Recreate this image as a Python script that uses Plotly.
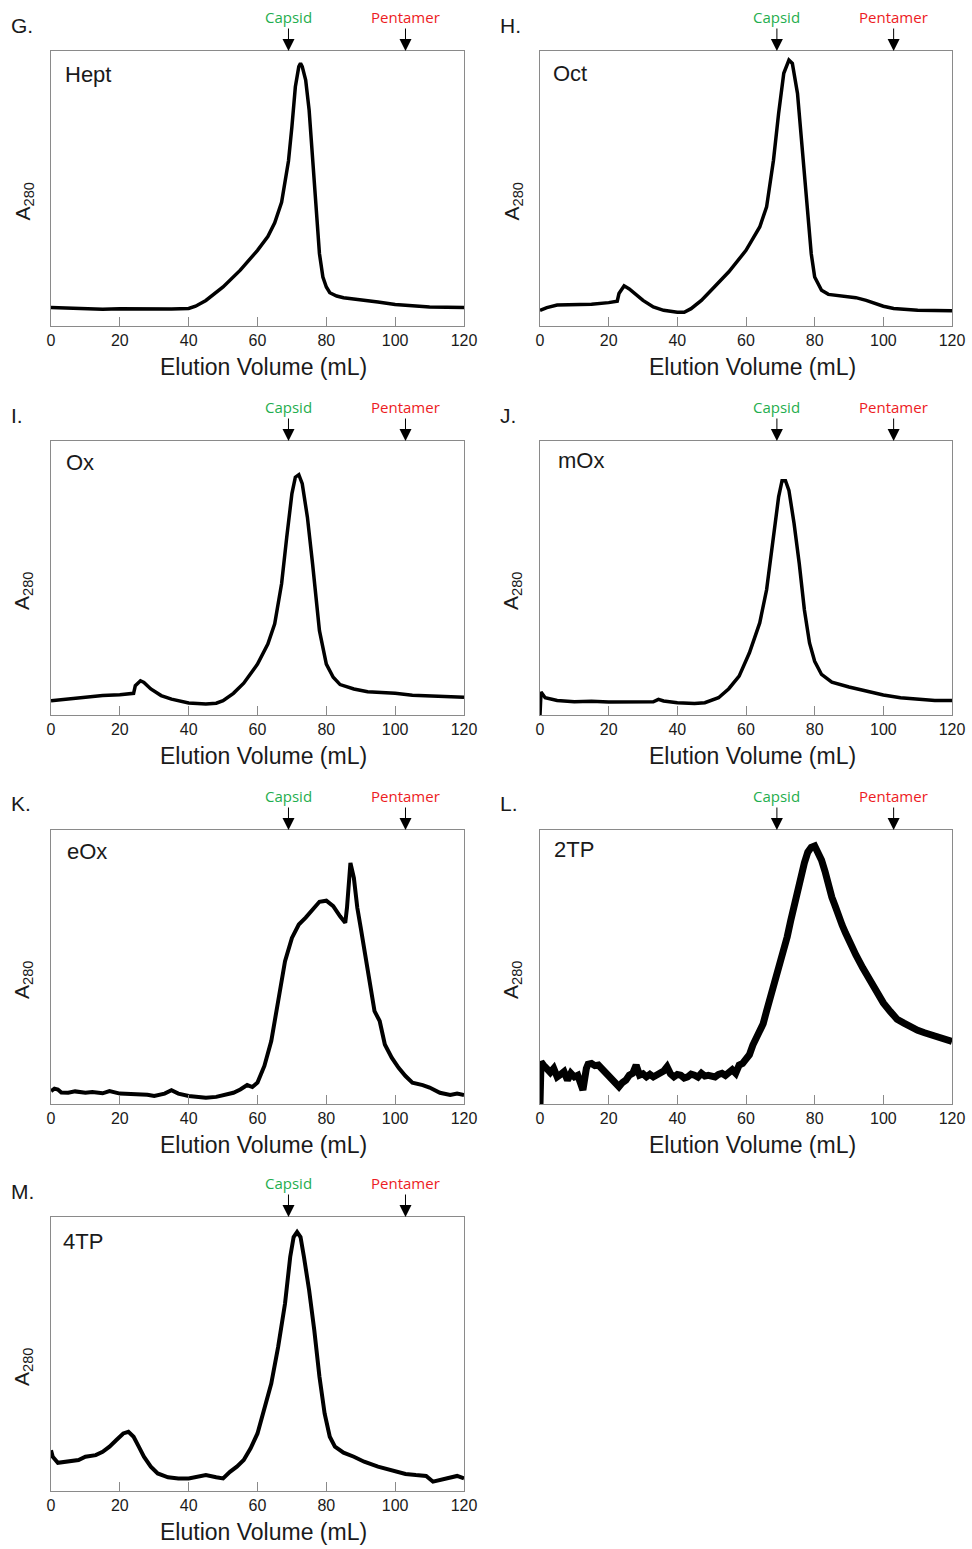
import plotly.graph_objects as go

# ---------------- data (A280, normalised 0-100 of panel height) ----------------
hept_x = [0, 5, 10, 15, 20, 25, 30, 35, 40, 42, 45, 50, 55, 60, 63, 65, 67, 68, 69, 70, 71, 72, 72.5, 73, 74, 75, 76, 77, 78, 79, 80, 81, 83, 85, 90, 95, 100, 105, 110, 115, 120]
hept_y = [6.7, 6.4, 6.2, 6.1, 6.3, 6.2, 6.1, 6.2, 6.4, 7.2, 9.3, 14.2, 20.3, 27.5, 32.5, 37.5, 45.0, 52.0, 60.0, 72.5, 87.0, 94.3, 95.5, 94.3, 89.4, 78.5, 61.5, 43.3, 26.3, 17.8, 14.2, 12.1, 10.9, 10.3, 9.6, 8.7, 7.8, 7.2, 6.9, 6.8, 6.7]

oct_x = [0, 2, 5, 10, 15, 20, 22.5, 23, 24.5, 26, 28, 30, 33, 36, 40, 42, 44, 47, 50, 55, 60, 64, 66, 68, 69.5, 71, 72.5, 73.5, 75, 76, 77, 78, 79, 80, 82, 84, 88, 92, 95, 100, 103, 110, 120]
oct_y = [5.7, 6.7, 7.6, 7.6, 7.9, 8.5, 9.0, 11.8, 14.6, 13.5, 11.2, 9.3, 6.9, 5.7, 5.0, 5.0, 6.3, 9.3, 13.2, 19.7, 27.5, 36.0, 43.3, 60.3, 77.3, 91.9, 96.7, 95.5, 84.6, 70.0, 55.5, 40.9, 26.3, 17.8, 13.0, 11.5, 11.0, 10.3, 9.3, 7.2, 6.4, 5.7, 5.5]

ox_x = [0, 5, 10, 15, 20, 24, 24.5, 26, 27, 29, 32, 35, 40, 45, 48, 50, 53, 56, 60, 63, 65, 67, 68.5, 70, 71, 72, 73, 74.5, 76, 77, 78, 80, 82, 84, 88, 92, 96, 100, 105, 110, 115, 120]
ox_y = [5.2, 5.8, 6.7, 7.1, 7.4, 7.9, 10.7, 12.5, 11.9, 9.5, 7.1, 5.8, 4.4, 4.0, 4.3, 5.2, 7.9, 11.6, 18.6, 25.9, 33.3, 47.9, 64.9, 80.8, 86.8, 87.7, 84.4, 72.2, 55.2, 43.0, 30.8, 18.6, 13.8, 11.1, 9.5, 8.5, 8.3, 7.9, 7.2, 6.9, 6.9, 6.5]

mox_x = [0, 0.3, 1.5, 5, 10, 15, 20, 25, 30, 33, 34.5, 36, 40, 45, 48, 52, 55, 58, 61, 64, 66, 68, 69.5, 70.5, 71.5, 72.5, 74, 75.5, 77, 78.5, 80, 82, 85, 90, 95, 100, 105, 110, 115, 120]
mox_y = [0.0, 8.4, 6.3, 5.3, 4.8, 5.0, 4.7, 4.7, 4.5, 4.8, 5.7, 5.1, 4.5, 4.2, 4.5, 6.3, 9.6, 14.2, 22.7, 33.6, 45.7, 65.1, 79.6, 85.5, 85.5, 82.0, 69.9, 55.4, 38.4, 26.3, 19.6, 14.8, 12.0, 10.2, 8.7, 7.3, 6.3, 5.7, 5.3, 5.3]

eox_x = [0, 1, 2, 3, 5, 7, 10, 12, 15, 17, 20, 23, 25, 28, 30, 33, 35, 37, 40, 43, 45, 48, 50, 53, 55, 57, 58.5, 60, 62, 64, 66, 68, 70, 72, 74, 76, 78, 80, 82, 84, 85.5, 86, 86.5, 87, 88, 89, 90, 92, 94, 95.5, 97, 99, 101, 103, 105, 108, 110, 113, 116, 118, 120]
eox_y = [4.7, 5.6, 5.3, 4.2, 4.1, 4.6, 4.1, 4.4, 3.9, 4.7, 3.8, 3.6, 3.3, 3.4, 2.9, 3.8, 5.0, 3.8, 2.9, 2.6, 2.3, 2.6, 3.3, 4.1, 5.3, 6.9, 6.2, 7.8, 13.9, 23.0, 37.5, 52.1, 60.6, 65.5, 68.0, 71.0, 73.8, 74.2, 72.2, 68.5, 66.1, 71.6, 82.5, 88.0, 82.5, 71.6, 64.3, 49.7, 33.9, 30.3, 21.7, 16.9, 13.2, 10.2, 7.8, 6.9, 6.0, 4.1, 3.3, 3.8, 3.3]

tp2_x = [0, 0.3, 1, 2, 3, 4, 5, 6, 7, 8, 9, 10, 11, 12, 12.5, 13.5, 14, 15, 16, 17, 18, 19, 20, 21, 22, 23, 24, 25, 26, 27, 28, 29, 30, 31, 32, 33, 34, 35, 36, 37, 38, 39, 40, 41, 42, 43, 44, 45, 46, 47, 48, 49, 50, 51, 52, 53, 54, 55, 56, 57, 58, 59, 60, 61, 62, 63, 64, 65, 66, 67, 68, 69, 70, 71, 72, 73, 74, 75, 76, 77, 78, 79, 80, 81, 82, 83, 84, 85, 86, 87, 88, 89, 90, 92, 94, 96, 98, 100, 102, 104, 106, 108, 110, 112, 114, 116, 118, 120]
tp2_y = [0.0, 15.4, 14.2, 12.5, 11.5, 13.0, 9.9, 10.8, 11.8, 8.7, 11.2, 9.9, 10.5, 6.9, 5.1, 13.0, 14.5, 14.8, 14.0, 14.2, 12.8, 11.8, 10.5, 9.3, 7.5, 6.3, 7.8, 8.7, 10.5, 11.2, 14.2, 10.5, 11.0, 9.9, 10.8, 9.9, 10.6, 11.2, 12.0, 13.6, 11.0, 9.9, 10.8, 10.5, 9.5, 9.9, 10.9, 10.5, 9.8, 11.2, 10.2, 10.5, 10.0, 9.9, 10.8, 11.2, 10.4, 11.8, 12.5, 11.2, 14.2, 14.8, 16.0, 18.0, 21.5, 24.0, 27.0, 29.3, 34.0, 38.4, 42.4, 46.4, 50.5, 55.3, 61.0, 66.8, 72.7, 78.0, 82.8, 88.0, 91.9, 93.7, 94.2, 91.9, 89.0, 85.0, 79.0, 75.5, 72.2, 68.2, 65.3, 62.4, 59.5, 54.4, 49.7, 45.3, 41.1, 36.9, 33.8, 30.9, 29.5, 28.0, 26.9, 26.0, 25.3, 24.4, 23.5, 22.8]

tp4_x = [0, 0.5, 2, 5, 8, 10, 13, 15, 17, 19, 21, 22.5, 24, 25.5, 27, 29, 31, 34, 37, 40, 43, 45, 48, 50, 52, 54, 56, 58, 60, 62, 64, 66, 68, 69.5, 70.5, 71.5, 72.5, 73.5, 75, 76.5, 78, 79.5, 81, 82.5, 85, 88, 91, 95, 100, 103, 106, 109, 111, 113, 116, 118, 120]
tp4_y = [14.9, 12.5, 10.3, 10.7, 11.3, 12.5, 13.1, 14.3, 16.2, 18.6, 21.0, 21.6, 19.8, 16.2, 12.5, 8.9, 6.4, 5.0, 4.6, 4.6, 5.5, 5.8, 5.0, 4.6, 7.0, 8.9, 11.3, 15.6, 21.0, 29.5, 39.2, 52.6, 68.4, 85.4, 92.7, 94.5, 92.7, 85.4, 73.3, 58.7, 41.7, 28.3, 19.8, 16.2, 14.0, 12.5, 10.7, 8.9, 7.0, 6.2, 5.8, 5.5, 3.4, 4.0, 4.6, 5.5, 4.6]

panel_letters = ["G.", "H.", "I.", "J.", "K.", "L.", "M."]
sample_names = ["Hept", "Oct", "Ox", "mOx", "eOx", "2TP", "4TP"]
series_x = [hept_x, oct_x, ox_x, mox_x, eox_x, tp2_x, tp4_x]
series_y = [hept_y, oct_y, ox_y, mox_y, eox_y, tp2_y, tp4_y]
marker_names = ["Capsid", "Pentamer"]
marker_volumes = [69, 103]
x_ticks = [0, 20, 40, 60, 80, 100, 120]
x_title = "Elution Volume (mL)"
y_title = "A<sub>280</sub>"

# ---------------- layout geometry (pixels) ----------------
W, H = 972, 1549
COLS = [(51, 464), (540, 952)]
ROWS = [(51, 326), (441, 715), (830, 1104), (1217, 1491)]
line_widths = [3.5, 3.5, 3.5, 3.5, 4, 7, 4]
name_dx = [14, 13, 15, 18, 16, 14, 12]
name_dy = [23, 22, 21, 19, 21, 19, 24]
marker_colors = ["#1fae4e", "#ed1c24"]
FRAME = "#8a8a8a"
FONT = "Liberation Sans, Arial"
TXT = "#1a1a1a"

fig = go.Figure()
annotations = []
for i in range(7):
    k = i + 1
    sfx = "" if k == 1 else str(k)
    row, col = divmod(i, 2)
    l, r = COLS[col]
    t, b = ROWS[row]
    fig.add_trace(go.Scatter(
        x=series_x[i], y=series_y[i], mode="lines",
        line=dict(color="black", width=line_widths[i]),
        xaxis="x" + sfx, yaxis="y" + sfx, showlegend=False, hoverinfo="x+y"))
    fig.layout["xaxis" + sfx] = dict(
        domain=[l / W, r / W], anchor="y" + sfx, range=[0, 120], automargin=False,
        tickvals=x_ticks, ticks="inside", ticklen=9, tickcolor=FRAME, tickwidth=1,
        showline=True, linecolor=FRAME, linewidth=1, mirror=True,
        showgrid=False, zeroline=False,
        tickfont=dict(family=FONT, size=16, color=TXT))
    fig.layout["yaxis" + sfx] = dict(
        domain=[1 - b / H, 1 - t / H], anchor="x" + sfx, range=[0, 100], automargin=False,
        showticklabels=False, ticks="", showline=True, linecolor=FRAME, linewidth=1,
        mirror=True, showgrid=False, zeroline=False)
    # x title
    annotations.append(dict(
        text=x_title, xref="paper", x=((l + r) / 2 + 6) / W, xanchor="center",
        yref="paper", y=1 - (b + 41) / H, yanchor="middle", showarrow=False,
        font=dict(family=FONT, size=23, color=TXT)))
    # y title as rotated text
    annotations.append(dict(
        text=y_title, textangle=-90, xref="paper", x=(l - 28) / W,
        xanchor="center", yref="paper", y=1 - ((t + b) / 2 + 13) / H, yanchor="middle",
        showarrow=False, font=dict(family=FONT, size=21, color=TXT)))
    # panel letter
    annotations.append(dict(
        text=panel_letters[i], xref="paper", x=(l - 42) / W, xanchor="left",
        yref="paper", y=1 - (t - 26) / H, yanchor="middle", showarrow=False,
        font=dict(family=FONT, size=21, color=TXT)))
    # sample name inside
    annotations.append(dict(
        text=sample_names[i], xref="paper", x=(l + name_dx[i] - 2) / W, xanchor="left",
        yref="paper", y=1 - (t + name_dy[i]) / H, yanchor="middle", showarrow=False,
        font=dict(family=FONT, size=22, color=TXT)))
    # Capsid / Pentamer markers
    for m in range(2):
        annotations.append(dict(
            text=marker_names[m], x=marker_volumes[m], xref="x" + sfx,
            y=1, yref="y" + sfx + " domain", ax=0, ay=-34,
            showarrow=True, arrowhead=2, arrowsize=2.4, arrowwidth=1, arrowcolor="black",
            font=dict(family="Open Sans", size=15, color=marker_colors[m])))

fig.update_layout(
    width=W, height=H, autosize=False, margin=dict(l=0, r=0, t=0, b=0, pad=0, autoexpand=False),
    paper_bgcolor="white", plot_bgcolor="white",
    annotations=annotations, showlegend=False)

fig.write_html("out.html", config={"responsive": False})
